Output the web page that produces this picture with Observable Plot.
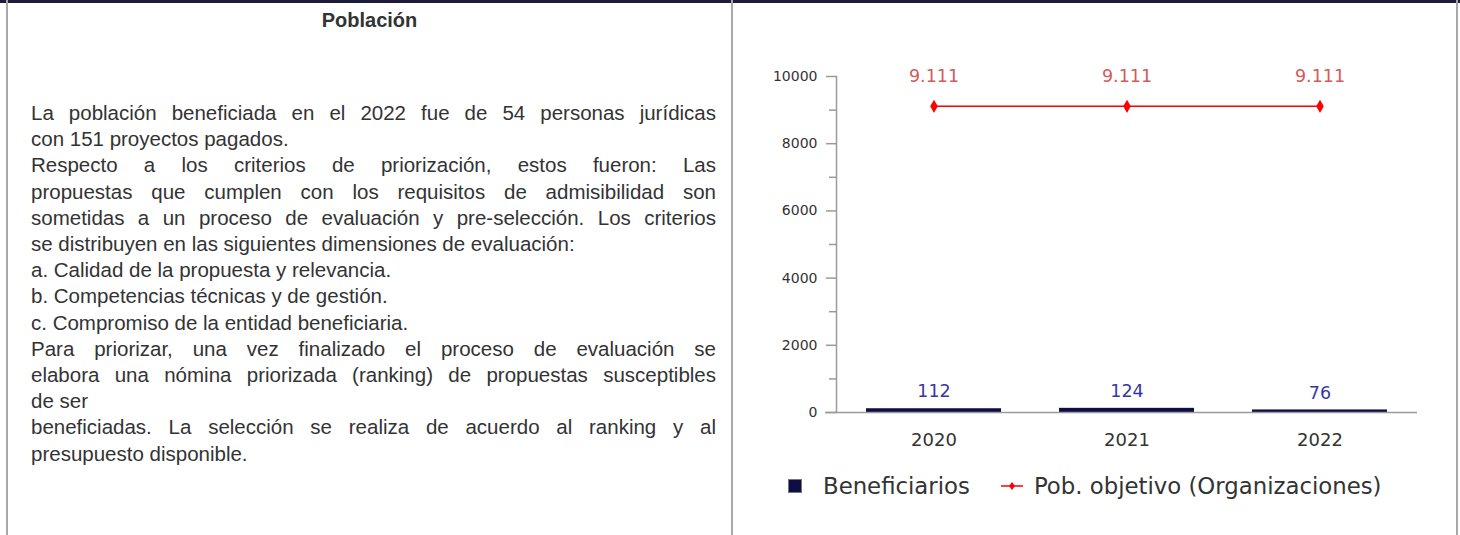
<!DOCTYPE html>
<html>
<head>
<meta charset="utf-8">
<script src="https://cdn.jsdelivr.net/npm/d3@7"></script>
<script src="https://cdn.jsdelivr.net/npm/@observablehq/plot@0.6"></script>
<style>
  html, body { margin: 0; padding: 0; background: #fff; }
  #page { position: relative; width: 1460px; height: 535px; overflow: hidden; background: #fff; }
  .topbar { position: absolute; left: 0; top: 0; width: 1460px; height: 3px; background: #1d1d3b; }
  .vline { position: absolute; top: 0; width: 2px; height: 535px; background: #a8a8a8; }
  #title { position: absolute; left: 8px; width: 723px; top: 9px; text-align: center;
           font-family: Arial, "Liberation Sans", sans-serif; font-weight: bold; font-size: 20px; color: #333; }
  #text { position: absolute; left: 31px; top: 100px; width: 685px;
          font-family: Arial, "Liberation Sans", sans-serif; font-size: 20.5px; line-height: 26.2px; color: #333; }
  #text div { white-space: nowrap; }
  #text div.j { text-align: justify; text-align-last: justify; }
  #chart { position: absolute; left: 740px; top: 40px; }
  #legend { position: absolute; left: 788px; top: 472px; height: 28px; display: flex; align-items: center;
            font-family: "DejaVu Sans", sans-serif; font-size: 22.8px; color: #333; white-space: nowrap; }
  .sq { width: 12px; height: 12px; background: #0e0e45; border: 1px solid #777; margin-right: 21px; }
</style>
</head>
<body>
<div id="page">
  <div class="topbar"></div>
  <div class="vline" style="left:6px"></div>
  <div class="vline" style="left:731px"></div>
  <div class="vline" style="left:1456px"></div>
  <div id="title">Población</div>
  <div id="text"></div>
  <div id="chart"></div>
  <div id="legend"></div>
</div>
<script>
// ---- chart data ----
const years = ["2020", "2021", "2022"];
const beneficiarios = [112, 124, 76];
const pobObjetivo = [9111, 9111, 9111];
const yTicks = [0, 2000, 4000, 6000, 8000, 10000];
const yMinorTicks = [1000, 3000, 5000, 7000, 9000];
const seriesNames = ["Beneficiarios", "Pob. objetivo (Organizaciones)"];

// ---- left cell text ----
const textLines = [
  ["j", "La población beneficiada en el 2022 fue de 54 personas jurídicas"],
  ["l", "con 151 proyectos pagados."],
  ["j", "Respecto a los criterios de priorización, estos fueron: Las"],
  ["j", "propuestas que cumplen con los requisitos de admisibilidad son"],
  ["j", "sometidas a un proceso de evaluación y pre-selección. Los criterios"],
  ["l", "se distribuyen en las siguientes dimensiones de evaluación:"],
  ["l", "a. Calidad de la propuesta y relevancia."],
  ["l", "b. Competencias técnicas y de gestión."],
  ["l", "c. Compromiso de la entidad beneficiaria."],
  ["j", "Para priorizar, una vez finalizado el proceso de evaluación se"],
  ["j", "elabora una nómina priorizada (ranking) de propuestas susceptibles"],
  ["l", "de ser"],
  ["j", "beneficiadas. La selección se realiza de acuerdo al ranking y al"],
  ["l", "presupuesto disponible."]
];
const textEl = document.getElementById("text");
for (const [cls, t] of textLines) {
  const d = document.createElement("div");
  d.className = cls;
  d.textContent = t;
  textEl.appendChild(d);
}

const data = years.map((y, i) => ({year: y, ben: beneficiarios[i], pob: pobObjetivo[i]}));
const fmt = d3.formatLocale({decimal: ",", thousands: ".", grouping: [3], currency: ["$", ""]}).format(",d");

const barColor = "#0e0e45";
const lineColor = "#ff0000";
const axisColor = "#9a9a9a";

const chart = Plot.plot({
  width: 700,
  height: 420,
  marginLeft: 96,
  marginRight: 23,
  marginTop: 36,
  marginBottom: 48,
  style: {fontFamily: "'DejaVu Sans', sans-serif", background: "transparent", color: "#333"},
  x: {type: "band", domain: years, paddingInner: 0.3, paddingOuter: 0.15, label: null},
  y: {domain: [0, 10000], label: null},
  marks: [
    Plot.frame({anchor: "left", stroke: axisColor, strokeWidth: 1.5}),
    Plot.axisY(yTicks, {tickSize: 10, tickPadding: 9, fontSize: 14, tickFormat: "d", stroke: axisColor, strokeWidth: 1.5, fill: "#333", label: null}),
    Plot.axisY(yMinorTicks, {tickSize: 7, text: null, stroke: axisColor, strokeWidth: 1.5, label: null}),
    Plot.axisX({tickSize: 0, tickPadding: 21, fontSize: 18, fill: "#333", label: null}),
    Plot.barY(data, {x: "year", y: "ben", fill: barColor}),
    Plot.ruleY([0], {stroke: axisColor, strokeWidth: 1.5, insetLeft: -11}),
    Plot.line(data, {x: "year", y: "pob", stroke: lineColor, strokeWidth: 1.5}),
    Plot.dot(data, {x: "year", y: "pob", symbol: "diamond", r: 4, fill: lineColor, stroke: "none"}),
    Plot.text(data, {x: "year", y: "pob", text: d => fmt(d.pob), dy: -30, fontSize: 17.5, fill: "#d35b5b"}),
    Plot.text(data, {x: "year", y: "ben", text: d => fmt(d.ben), dy: -17, fontSize: 17.5, fill: "#3636a3"})
  ]
});
document.getElementById("chart").appendChild(chart);

// ---- legend ----
const legend = document.getElementById("legend");
legend.innerHTML =
  `<div class="sq"></div><span>${seriesNames[0]}</span>` +
  `<svg width="24" height="12" style="margin-left:30px;margin-right:10px"><line x1="1" x2="23" y1="6" y2="6" stroke="${lineColor}" stroke-width="1.5"/><path d="M12,2 L15,6 L12,10 L9,6Z" fill="${lineColor}"/></svg>` +
  `<span>${seriesNames[1]}</span>`;
</script>
</body>
</html>
